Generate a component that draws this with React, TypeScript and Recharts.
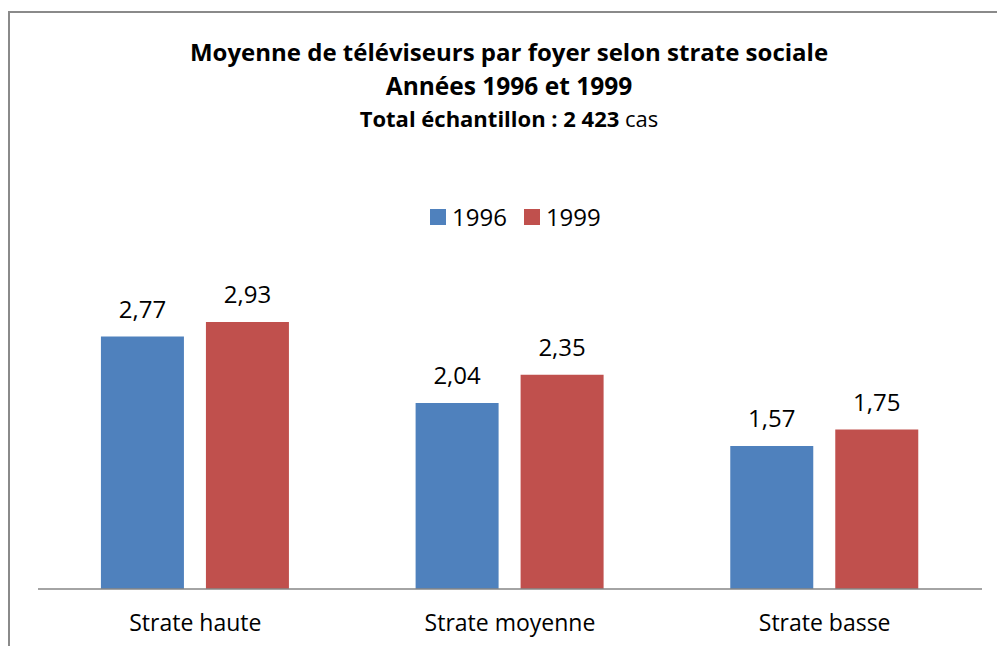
import React from 'react';
import { BarChart, Bar, XAxis, YAxis, LabelList } from 'recharts';

const strates = ['Strate haute', 'Strate moyenne', 'Strate basse'];
const values1996 = [2.77, 2.04, 1.57];
const values1999 = [2.93, 2.35, 1.75];
const years = ['1996', '1999'];
const colors = ['#4F81BD', '#C0504D'];

const data = strates.map((strate, i) => ({
  strate,
  y1996: values1996[i],
  y1999: values1999[i],
}));

const FONT = '"Open Sans", "DejaVu Sans", sans-serif';

const fmt = (v: any) => Number(v).toFixed(2).replace('.', ',');

// legend sits in the page, outside the chart, so it does not shrink the plot
function LegendBox() {
  return (
    <div
      style={{
        position: 'absolute',
        top: 200,
        left: 430,
        display: 'flex',
        alignItems: 'center',
        fontFamily: FONT,
        fontSize: 24,
        color: '#000',
      }}
    >
      {years.map((y, i) => (
        <div key={y} style={{ display: 'flex', alignItems: 'center', marginRight: 17 }}>
          <span style={{ width: 16, height: 16, background: colors[i], display: 'inline-block', marginRight: 6 }} />
          <span>{y}</span>
        </div>
      ))}
    </div>
  );
}

export default function App() {
  return (
    <div style={{ position: 'absolute', left: 0, top: 0, width: 997, height: 646, overflow: 'hidden', background: '#fff' }}>
      {/* frame of the chart area, right and bottom edges are cut off */}
      <div
        style={{
          position: 'absolute',
          left: 8,
          top: 11,
          width: 1100,
          height: 800,
          borderTop: '2px solid #8a8a8a',
          borderLeft: '2px solid #8a8a8a',
        }}
      />
      <BarChart
        width={997}
        height={646}
        data={data}
        margin={{ top: 270, right: 15, left: 38, bottom: 0 }}
        barCategoryGap="20%"
        barGap={22}
        style={{ position: 'absolute', left: 0, top: 0 }}
      >
        <XAxis
          dataKey="strate"
          height={57}
          tickLine={false}
          tickSize={6}
          tickMargin={20}
          axisLine={{ stroke: '#868686', strokeWidth: 1.5 }}
          tick={{ fill: '#000', fontSize: 23, fontFamily: FONT }}
        />
        <YAxis hide domain={[0, 3.5]} />
        <Bar dataKey="y1996" name="1996" fill={colors[0]} isAnimationActive={false}>
          <LabelList dataKey="y1996" position="top" offset={19} formatter={fmt} fill="#000" fontSize={24} fontFamily={FONT} />
        </Bar>
        <Bar dataKey="y1999" name="1999" fill={colors[1]} isAnimationActive={false}>
          <LabelList dataKey="y1999" position="top" offset={19} formatter={fmt} fill="#000" fontSize={24} fontFamily={FONT} />
        </Bar>
      </BarChart>
      <LegendBox />
      <svg width={997} height={200} style={{ position: 'absolute', left: 0, top: 0, pointerEvents: 'none' }}>
        <g fontFamily={FONT} fill="#000" textAnchor="middle">
          <text x={509} y={61} fontSize={24} fontWeight="bold">
            Moyenne de téléviseurs par foyer selon strate sociale
          </text>
          <text x={509} y={95} fontSize={24.5} fontWeight="bold">
            Années 1996 et 1999
          </text>
          <text x={509} y={127} fontSize={22}>
            <tspan fontWeight="bold">Total échantillon : 2 423 </tspan>
            <tspan>cas</tspan>
          </text>
        </g>
      </svg>
    </div>
  );
}
